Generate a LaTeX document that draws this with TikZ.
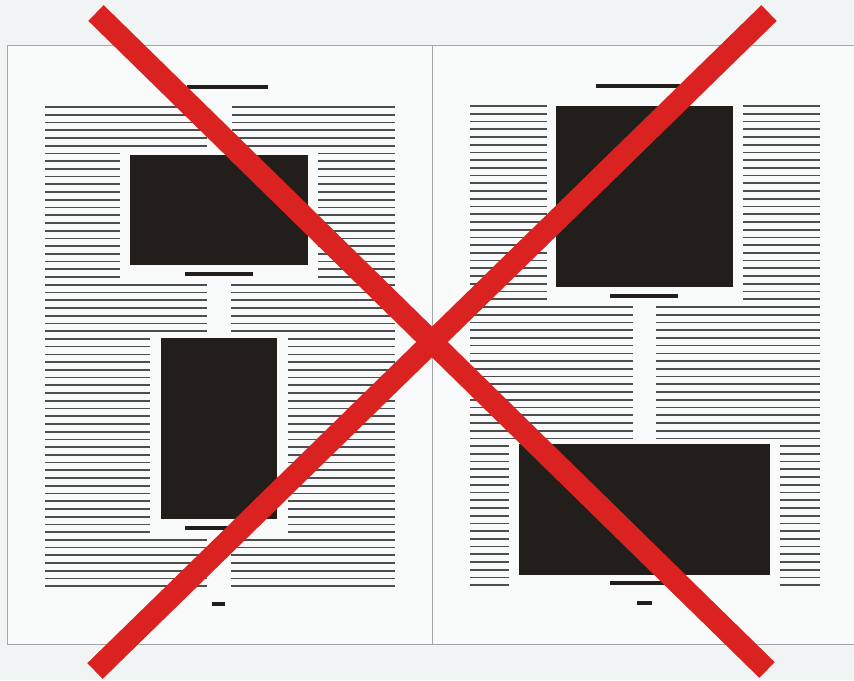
\documentclass[tikz,border=0pt]{standalone}
\definecolor{bgc}{HTML}{F1F4F4}
\definecolor{pagec}{HTML}{F9FAFA}
\definecolor{framec}{HTML}{A4A6A6}
\definecolor{linec}{HTML}{4E4E4E}
\definecolor{picc}{HTML}{221E1B}
\definecolor{xred}{HTML}{DA2320}
\tikzset{
  txt/.style={draw=linec, line width=1.7},
  photo/.style={fill=picc},
  capbar/.style={draw=picc, line width=3.2},
  folio/.style={draw=picc, line width=4},
  frame/.style={draw=framec, line width=1},
  cross/.style={draw=xred, line width=22, line cap=butt}
}
\begin{document}
\begin{tikzpicture}[x=1pt,y=-1pt]
\useasboundingbox[fill=bgc] (0,0) rectangle (854,680);
% pages
\fill[pagec] (7,45) rectangle (854,644);
\draw[frame] (854,45) -- (7,45) -- (7,644) -- (854,644);
\draw[frame] (432,45) -- (432,644);
% left page text lines
\foreach \i in {0,...,5}{
  \draw[txt] (45,{107+7.73*\i}) -- (207,{107+7.73*\i});
  \draw[txt] (232,{107+7.73*\i}) -- (395,{107+7.73*\i});}
\foreach \i in {6,...,22}{
  \draw[txt] (45,{107+7.73*\i}) -- (120,{107+7.73*\i});
  \draw[txt] (318,{107+7.73*\i}) -- (395,{107+7.73*\i});}
\foreach \i in {23,...,29}{
  \draw[txt] (45,{107+7.73*\i}) -- (207,{107+7.73*\i});
  \draw[txt] (231,{107+7.73*\i}) -- (395,{107+7.73*\i});}
\foreach \i in {30,...,55}{
  \draw[txt] (45,{107+7.73*\i}) -- (150,{107+7.73*\i});
  \draw[txt] (288,{107+7.73*\i}) -- (395,{107+7.73*\i});}
\foreach \i in {56,...,62}{
  \draw[txt] (45,{107+7.73*\i}) -- (207,{107+7.73*\i});
  \draw[txt] (231,{107+7.73*\i}) -- (395,{107+7.73*\i});}
% right page text lines
\foreach \i in {0,...,25}{
  \draw[txt] (470,{106+7.73*\i}) -- (547,{106+7.73*\i});
  \draw[txt] (743,{106+7.73*\i}) -- (820,{106+7.73*\i});}
\foreach \i in {26,...,43}{
  \draw[txt] (470,{106+7.73*\i}) -- (633,{106+7.73*\i});
  \draw[txt] (656,{106+7.73*\i}) -- (820,{106+7.73*\i});}
\foreach \i in {44,...,62}{
  \draw[txt] (470,{106+7.73*\i}) -- (509,{106+7.73*\i});
  \draw[txt] (780,{106+7.73*\i}) -- (820,{106+7.73*\i});}
% pictures
\fill[photo] (130,155) rectangle (308,265);
\fill[photo] (161,338) rectangle (277,519);
\fill[photo] (556,106) rectangle (733,287);
\fill[photo] (519,444) rectangle (770,575);
% heads, captions, folios
\draw[capbar] (187,87) -- (268,87);
\draw[capbar] (185,274) -- (253,274);
\draw[capbar] (185,528) -- (250,528);
\draw[folio] (212,604) -- (225,604);
\draw[capbar] (596,86) -- (680,86);
\draw[capbar] (610,296) -- (678,296);
\draw[capbar] (610,583) -- (678,583);
\draw[folio] (637,603) -- (652,603);
% red cross
\coordinate (tl) at (96,13);
\coordinate (br) at (767,670);
\coordinate (tr) at (769,13);
\coordinate (bl) at (95,671);
\draw[cross] (tl) -- (br);
\draw[cross] (tr) -- (bl);
\end{tikzpicture}
\end{document}
